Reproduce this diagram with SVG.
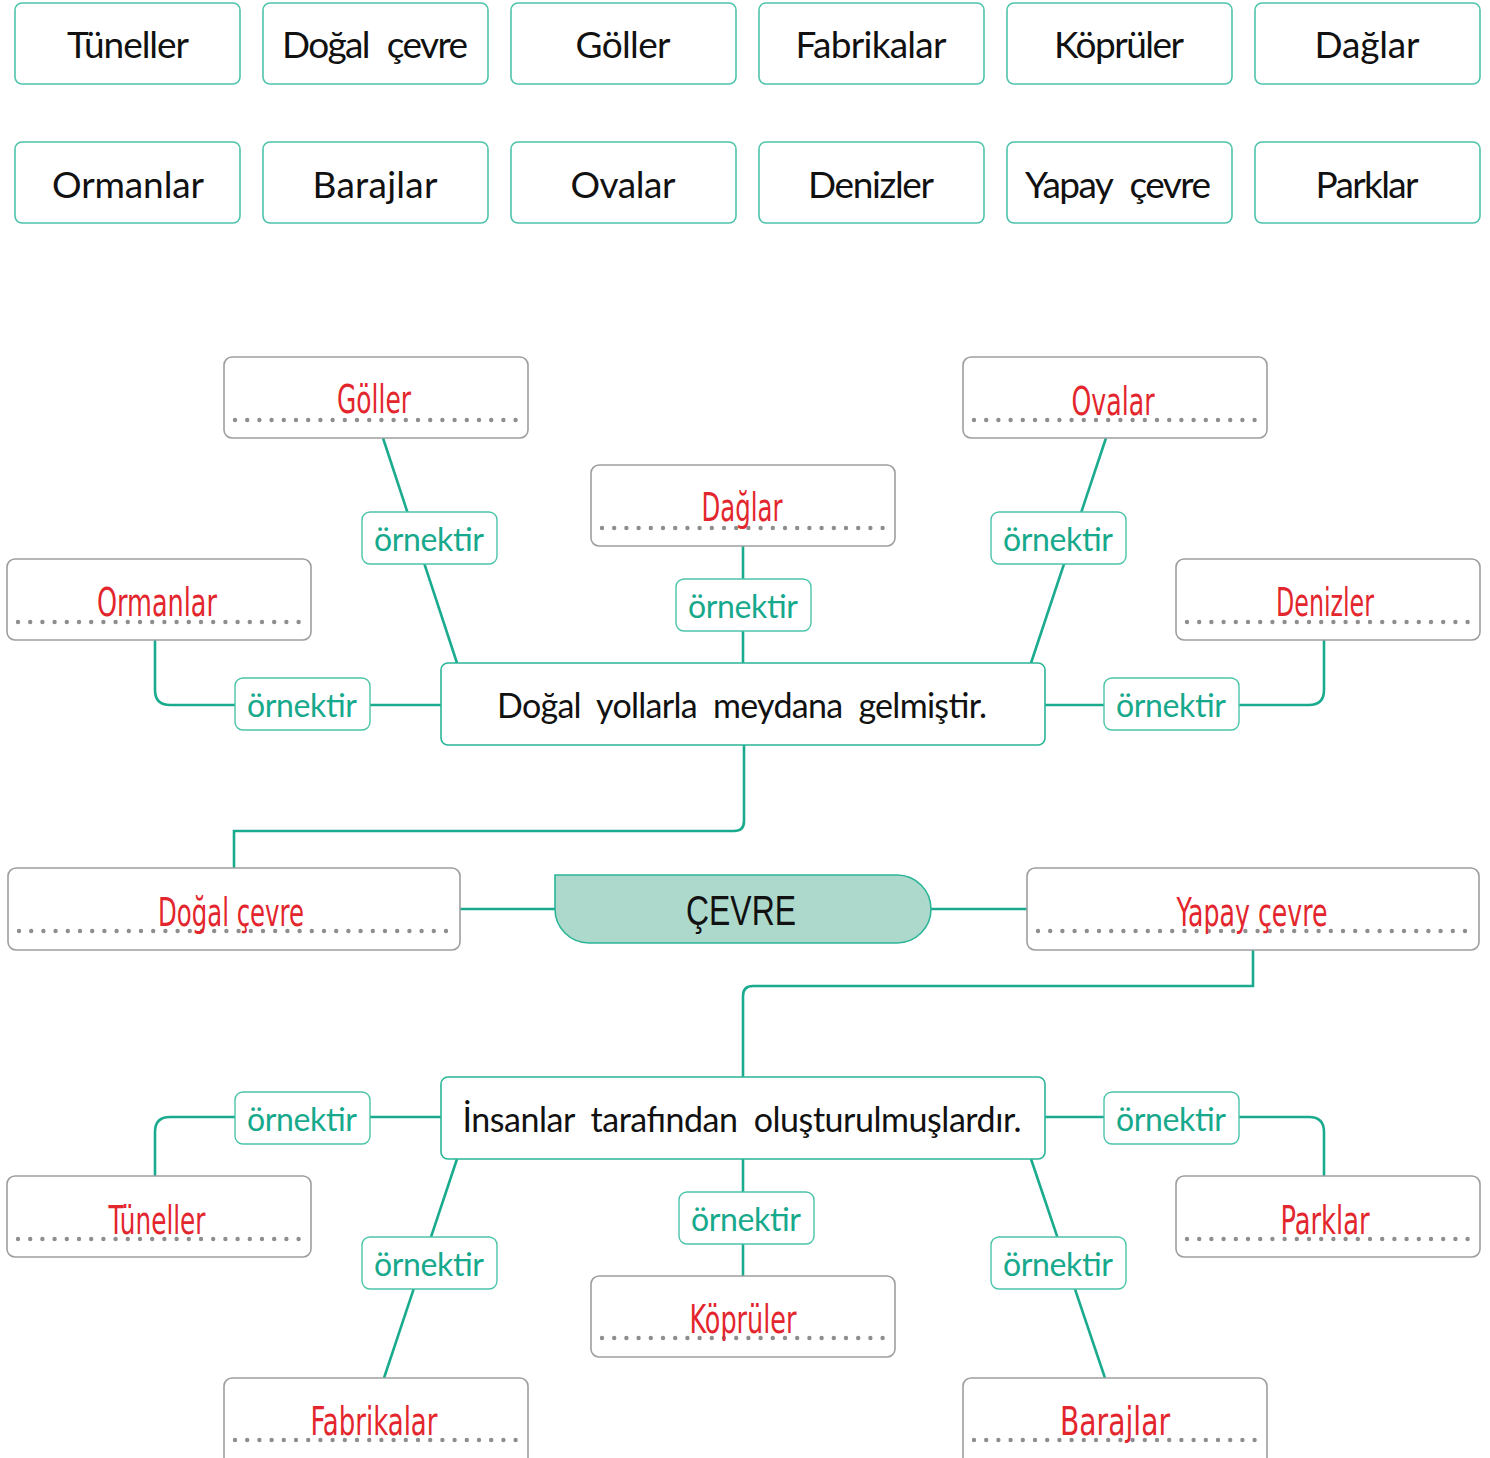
<svg xmlns="http://www.w3.org/2000/svg" width="1490" height="1458" viewBox="0 0 1490 1458">
<style>
.wb{fill:#fff;stroke:#4ec3ab;stroke-width:1.6}
.wt{font-family:Lato,"Noto Sans",sans-serif;font-size:37px;font-weight:400;fill:#111;text-anchor:middle;word-spacing:10px}
.ab{fill:#fff;stroke:#9e9e9e;stroke-width:1.6}
.dot{stroke:#8e8e8e;stroke-width:4.4;stroke-linecap:round;stroke-dasharray:0 12.2;fill:none}
.at{font-family:"Liberation Sans Narrow","DejaVu Sans Condensed","Liberation Sans",sans-serif;font-size:39px;fill:#e3262d;text-anchor:middle}
.mb{fill:#fff;stroke:#2bb597;stroke-width:1.6}
.mt{font-family:Lato,"Noto Sans",sans-serif;font-size:34px;font-weight:400;fill:#111;text-anchor:middle;word-spacing:8px}
.lb{fill:#fff;stroke:#4cc4aa;stroke-width:1.4}
.lt{font-family:Lato,"Noto Sans",sans-serif;font-size:32px;fill:#17a98c;text-anchor:middle}
.cn{fill:none;stroke:#1aab8f;stroke-width:2.6}
</style>

<g id="connectors">
<path class="cn" d="M460,909 H555 M931,909 H1027"/>
<path class="cn" d="M234,868 V831 H734 Q744,831 744,821 V745"/>
<path class="cn" d="M1253,950 V986 H753 Q743,986 743,996 V1077"/>
<path class="cn" d="M383,438 L457,663"/>
<path class="cn" d="M743,546 V663"/>
<path class="cn" d="M1106,438 L1031,663"/>
<path class="cn" d="M155,640 V690 Q155,705 170,705 H441"/>
<path class="cn" d="M1045,705 H1309 Q1324,705 1324,690 V640"/>
<path class="cn" d="M441,1117 H170 Q155,1117 155,1132 V1176"/>
<path class="cn" d="M1045,1117 H1309 Q1324,1117 1324,1132 V1176"/>
<path class="cn" d="M457,1159 L384,1378"/>
<path class="cn" d="M743,1159 V1276"/>
<path class="cn" d="M1031,1159 L1105,1378"/>
</g>

<g id="word-bank">
<g id="w-tuneller"><rect class="wb" x="15" y="3" width="225" height="81" rx="7"/><text class="wt" x="128" y="58" textLength="122">Tüneller</text></g>
<g id="w-dogal-cevre"><rect class="wb" x="263" y="3" width="225" height="81" rx="7"/><text class="wt" x="375" y="58" textLength="186">Doğal çevre</text></g>
<g id="w-goller"><rect class="wb" x="511" y="3" width="225" height="81" rx="7"/><text class="wt" x="623" y="58" textLength="95">Göller</text></g>
<g id="w-fabrikalar"><rect class="wb" x="759" y="3" width="225" height="81" rx="7"/><text class="wt" x="871" y="58" textLength="151">Fabrikalar</text></g>
<g id="w-kopruler"><rect class="wb" x="1007" y="3" width="225" height="81" rx="7"/><text class="wt" x="1119" y="58" textLength="130">Köprüler</text></g>
<g id="w-daglar"><rect class="wb" x="1255" y="3" width="225" height="81" rx="7"/><text class="wt" x="1367" y="58" textLength="105">Dağlar</text></g>
<g id="w-ormanlar"><rect class="wb" x="15" y="142" width="225" height="81" rx="7"/><text class="wt" x="128" y="198" textLength="152">Ormanlar</text></g>
<g id="w-barajlar"><rect class="wb" x="263" y="142" width="225" height="81" rx="7"/><text class="wt" x="375" y="198" textLength="125">Barajlar</text></g>
<g id="w-ovalar"><rect class="wb" x="511" y="142" width="225" height="81" rx="7"/><text class="wt" x="623" y="198" textLength="105">Ovalar</text></g>
<g id="w-denizler"><rect class="wb" x="759" y="142" width="225" height="81" rx="7"/><text class="wt" x="871" y="198" textLength="126">Denizler</text></g>
<g id="w-yapay-cevre"><rect class="wb" x="1007" y="142" width="225" height="81" rx="7"/><text class="wt" x="1118" y="198" textLength="186">Yapay çevre</text></g>
<g id="w-parklar"><rect class="wb" x="1255" y="142" width="225" height="81" rx="7"/><text class="wt" x="1367" y="198" textLength="103">Parklar</text></g>
</g>

<g id="cevre"><path d="M555,875 H897 A34,34 0 0 1 931,909 A34,34 0 0 1 897,943 H589 A34,34 0 0 1 555,909 Z" fill="#acd9cc" stroke="#2bb597" stroke-width="1.6"/><text x="741" y="925" font-family="'Liberation Sans',Arial,sans-serif" font-size="42" fill="#111" text-anchor="middle" textLength="110" lengthAdjust="spacingAndGlyphs">ÇEVRE</text></g>

<g id="dogal-yollarla"><rect class="mb" x="441" y="663" width="604" height="82" rx="7"/><text class="mt" x="742" y="718" textLength="490">Doğal yollarla meydana gelmiştir.</text></g>
<g id="insanlar"><rect class="mb" x="441" y="1077" width="604" height="82" rx="7"/><text class="mt" x="742" y="1132" textLength="559">İnsanlar tarafından oluşturulmuşlardır.</text></g>

<g id="a-dogal-cevre"><rect class="ab" x="8" y="868" width="452" height="82" rx="8"/><path class="dot" d="M19,931 H452"/><text class="at" x="231" y="926" textLength="146" lengthAdjust="spacingAndGlyphs">Doğal çevre</text></g>
<g id="a-yapay-cevre"><rect class="ab" x="1027" y="868" width="452" height="82" rx="8"/><path class="dot" d="M1038,931 H1471"/><text class="at" x="1252" y="926" textLength="151" lengthAdjust="spacingAndGlyphs">Yapay çevre</text></g>

<g id="a-goller"><rect class="ab" x="224" y="357" width="304" height="81" rx="8"/><path class="dot" d="M235,420 H519"/><text class="at" x="374" y="413" textLength="74" lengthAdjust="spacingAndGlyphs">Göller</text></g>
<g id="a-daglar"><rect class="ab" x="591" y="465" width="304" height="81" rx="8"/><path class="dot" d="M602,528 H886"/><text class="at" x="742" y="521" textLength="81" lengthAdjust="spacingAndGlyphs">Dağlar</text></g>
<g id="a-ovalar"><rect class="ab" x="963" y="357" width="304" height="81" rx="8"/><path class="dot" d="M974,420 H1258"/><text class="at" x="1113" y="415" textLength="83" lengthAdjust="spacingAndGlyphs">Ovalar</text></g>
<g id="a-ormanlar"><rect class="ab" x="7" y="559" width="304" height="81" rx="8"/><path class="dot" d="M18,622 H302"/><text class="at" x="157" y="616" textLength="120" lengthAdjust="spacingAndGlyphs">Ormanlar</text></g>
<g id="a-denizler"><rect class="ab" x="1176" y="559" width="304" height="81" rx="8"/><path class="dot" d="M1187,622 H1471"/><text class="at" x="1325" y="616" textLength="98" lengthAdjust="spacingAndGlyphs">Denizler</text></g>

<g id="a-tuneller"><rect class="ab" x="7" y="1176" width="304" height="81" rx="8"/><path class="dot" d="M18,1239 H302"/><text class="at" x="157" y="1234" textLength="97" lengthAdjust="spacingAndGlyphs">Tüneller</text></g>
<g id="a-parklar"><rect class="ab" x="1176" y="1176" width="304" height="81" rx="8"/><path class="dot" d="M1187,1239 H1471"/><text class="at" x="1325" y="1234" textLength="89" lengthAdjust="spacingAndGlyphs">Parklar</text></g>
<g id="a-kopruler"><rect class="ab" x="591" y="1276" width="304" height="81" rx="8"/><path class="dot" d="M602,1338 H886"/><text class="at" x="743" y="1333" textLength="107" lengthAdjust="spacingAndGlyphs">Köprüler</text></g>
<g id="a-fabrikalar"><rect class="ab" x="224" y="1378" width="304" height="90" rx="8"/><path class="dot" d="M235,1440 H519"/><text class="at" x="374" y="1435" textLength="127" lengthAdjust="spacingAndGlyphs">Fabrikalar</text></g>
<g id="a-barajlar"><rect class="ab" x="963" y="1378" width="304" height="90" rx="8"/><path class="dot" d="M974,1440 H1258"/><text class="at" x="1115" y="1435" textLength="110" lengthAdjust="spacingAndGlyphs">Barajlar</text></g>

<g id="labels">
<g id="l1"><rect class="lb" x="362" y="512" width="135" height="52" rx="8"/><text class="lt" x="429" y="551" textLength="110">örnektir</text></g>
<g id="l2"><rect class="lb" x="676" y="579" width="135" height="52" rx="8"/><text class="lt" x="743" y="618" textLength="110">örnektir</text></g>
<g id="l3"><rect class="lb" x="991" y="512" width="135" height="52" rx="8"/><text class="lt" x="1058" y="551" textLength="110">örnektir</text></g>
<g id="l4"><rect class="lb" x="235" y="678" width="135" height="52" rx="8"/><text class="lt" x="302" y="717" textLength="110">örnektir</text></g>
<g id="l5"><rect class="lb" x="1104" y="678" width="135" height="52" rx="8"/><text class="lt" x="1171" y="717" textLength="110">örnektir</text></g>
<g id="l6"><rect class="lb" x="235" y="1092" width="135" height="52" rx="8"/><text class="lt" x="302" y="1131" textLength="110">örnektir</text></g>
<g id="l7"><rect class="lb" x="1104" y="1092" width="135" height="52" rx="8"/><text class="lt" x="1171" y="1131" textLength="110">örnektir</text></g>
<g id="l8"><rect class="lb" x="679" y="1192" width="135" height="52" rx="8"/><text class="lt" x="746" y="1231" textLength="110">örnektir</text></g>
<g id="l9"><rect class="lb" x="362" y="1237" width="135" height="52" rx="8"/><text class="lt" x="429" y="1276" textLength="110">örnektir</text></g>
<g id="l10"><rect class="lb" x="991" y="1237" width="135" height="52" rx="8"/><text class="lt" x="1058" y="1276" textLength="110">örnektir</text></g>
</g>
</svg>
